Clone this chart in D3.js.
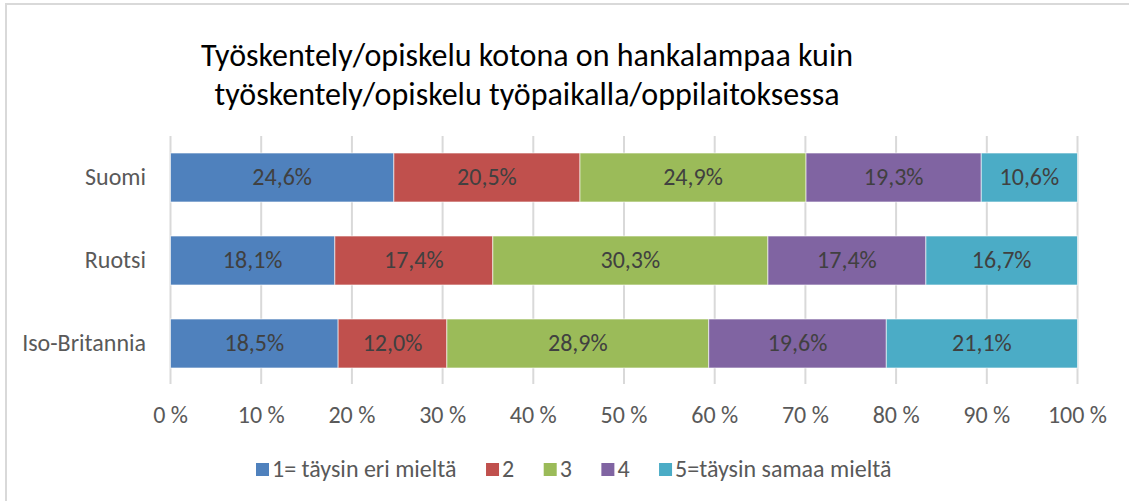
<!DOCTYPE html>
<html>
<head>
<meta charset="utf-8">
<script src="https://cdn.jsdelivr.net/npm/d3@7"></script>
<style>
  body { margin: 0; background: #fff; }
  text { font-family: Carlito, Lato, sans-serif; }
</style>
</head>
<body>
<div id="chart"></div>
<script>
let titleLines = ["Työskentely/opiskelu kotona on hankalampaa kuin", "työskentely/opiskelu työpaikalla/oppilaitoksessa"];
let countries = ["Suomi", "Ruotsi", "Iso-Britannia"];
let seriesNames = ["1= täysin eri mieltä", "2", "3", "4", "5=täysin samaa mieltä"];
let answer1 = [24.6, 18.1, 18.5];
let answer2 = [20.5, 17.4, 12.0];
let answer3 = [24.9, 30.3, 28.9];
let answer4 = [19.3, 17.4, 19.6];
let answer5 = [10.6, 16.7, 21.1];
let ticks = [0, 10, 20, 30, 40, 50, 60, 70, 80, 90, 100];
let colors = ["#4F81BD", "#C0504D", "#9BBB59", "#8064A2", "#4BACC6"];

function init() {
    let width = 1129, height = 501;
    let svg = d3.select("#chart").append("svg")
        .attr("width", width)
        .attr("height", height);

    // chart border (only top and left are in the picture)
    svg.append("line").attr("x1", 5).attr("y1", 4).attr("x2", width).attr("y2", 4)
        .attr("stroke", "#d9d9d9").attr("stroke-width", 2);
    svg.append("line").attr("x1", 6).attr("y1", 4).attr("x2", 6).attr("y2", height)
        .attr("stroke", "#d9d9d9").attr("stroke-width", 2);

    svg.selectAll(".title")
        .data(titleLines)
        .join("text")
        .attr("class", "title")
        .attr("x", 527)
        .attr("y", (d, i) => 66 + i * 39)
        .attr("text-anchor", "middle")
        .attr("font-size", 32)
        .attr("fill", "#000")
        .text(d => d);

    let series = [answer1, answer2, answer3, answer4, answer5];
    let rows = countries.map((c, i) => {
        let row = {country: c};
        seriesNames.forEach((s, j) => row[s] = series[j][i]);
        return row;
    });
    let stacked = d3.stack().keys(seriesNames).offset(d3.stackOffsetExpand)(rows);

    let x = d3.scaleLinear().domain([0, 1]).range([170.5, 1077.5]);
    let y = d3.scaleBand().domain(countries).range([136, 385]).paddingInner(0.41).paddingOuter(0.205);

    // gridlines
    svg.selectAll(".grid")
        .data(ticks)
        .join("line")
        .attr("class", "grid")
        .attr("x1", d => x(d / 100)).attr("x2", d => x(d / 100))
        .attr("y1", 136).attr("y2", 384)
        .attr("stroke", "#d9d9d9").attr("stroke-width", 2);

    // x axis labels
    svg.selectAll(".tick")
        .data(ticks)
        .join("text")
        .attr("class", "tick")
        .attr("x", d => x(d / 100))
        .attr("y", 423)
        .attr("text-anchor", "middle")
        .attr("font-size", 24)
        .attr("fill", "#595959")
        .text(d => d + " %");

    // category labels
    svg.selectAll(".cat")
        .data(countries)
        .join("text")
        .attr("class", "cat")
        .attr("x", 146)
        .attr("y", d => y(d) + y.bandwidth() / 2)
        .attr("dy", "0.33em")
        .attr("text-anchor", "end")
        .attr("font-size", 24)
        .attr("fill", "#595959")
        .text(d => d);

    let groups = svg.selectAll(".series")
        .data(stacked)
        .join("g")
        .attr("class", "series")
        .attr("fill", (d, i) => colors[i]);

    groups.selectAll("rect")
        .data(d => d)
        .join("rect")
        .attr("x", d => x(d[0]))
        .attr("y", d => y(d.data.country))
        .attr("width", d => x(d[1]) - x(d[0]))
        .attr("height", y.bandwidth())
        .attr("stroke", "#fff")
        .attr("stroke-opacity", 0.6)
        .attr("stroke-width", 1);

    groups.selectAll("text")
        .data(d => d.map(p => ({p: p, key: d.key})))
        .join("text")
        .attr("x", d => (x(d.p[0]) + x(d.p[1])) / 2)
        .attr("y", d => y(d.p.data.country) + y.bandwidth() / 2)
        .attr("dy", "0.33em")
        .attr("text-anchor", "middle")
        .attr("font-size", 24)
        .attr("fill", "#404040")
        .text(d => d.p.data[d.key].toFixed(1).replace(".", ",") + "%");

    // legend, items laid out one after another
    let legend = svg.selectAll(".legend")
        .data(seriesNames)
        .join("g")
        .attr("class", "legend");
    legend.append("rect")
        .attr("y", 463)
        .attr("width", 13).attr("height", 13)
        .attr("fill", (d, i) => colors[i]);
    legend.append("text")
        .attr("x", 16)
        .attr("y", 477)
        .attr("font-size", 24)
        .attr("fill", "#595959")
        .text(d => d);
    let lx = 256;
    legend.each(function() {
        let g = d3.select(this);
        g.attr("transform", "translate(" + lx + ",0)");
        lx += 16 + g.select("text").node().getComputedTextLength() + 29.5;
    });
}
window.onload = init;
</script>
</body>
</html>
